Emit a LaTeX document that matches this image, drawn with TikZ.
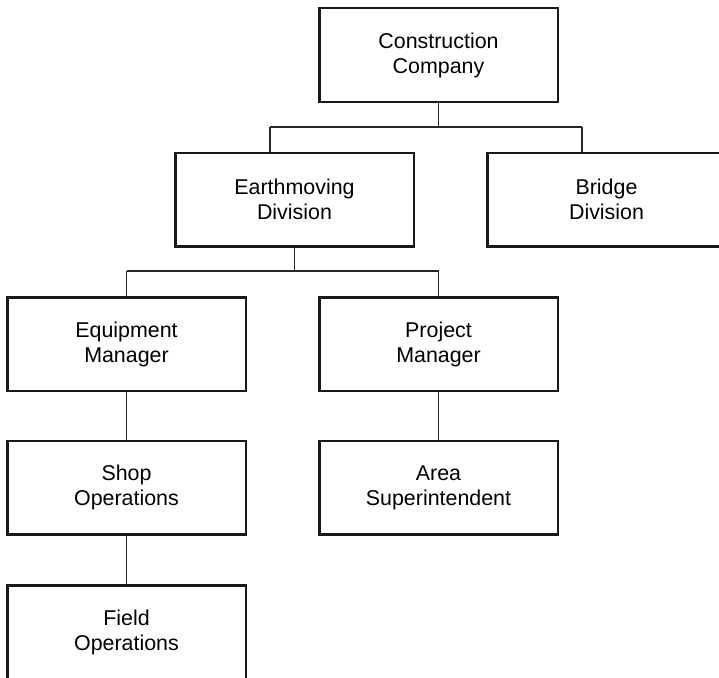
\documentclass[tikz,border=0pt]{standalone}
\usepackage{fontspec}
\setmainfont{Liberation Sans}
\begin{document}
\begin{tikzpicture}[x=1pt,y=-1pt,
  orgbox/.style={draw=black!90, line width=2.5pt, fill=white,
    minimum width=238.5pt, minimum height=93.5pt, inner sep=0pt,
    align=center, font=\fontsize{21.4}{25}\selectfont},
  bus/.style={draw=black!85, line width=1.3pt},
  link/.style={draw=black!85, line width=1.8pt}]
\useasboundingbox (0,0) rectangle (719,677);
\clip (0,0) rectangle (719,677);

% organisation boxes
\node[orgbox] (cc) at (438.5,55)    {Construction\\Company};
\node[orgbox] (ed) at (294.5,199.5) {Earthmoving\\Division};
\node[orgbox] (bd) at (606.5,199.5) {Bridge\\Division};
\node[orgbox] (em) at (126.5,344)   {Equipment\\Manager};
\node[orgbox] (pm) at (438.5,344)   {Project\\Manager};
\node[orgbox] (so) at (126.5,487.5) {Shop\\Operations};
\node[orgbox] (as) at (438.5,487.5) {Area\\Superintendent};
\node[orgbox] (fo) at (126.5,632)   {Field\\Operations};

% first-level bus
\coordinate (b1l) at (270,127);
\coordinate (b1r) at (582,127);
\draw[bus] (b1l) -- (b1r);
\draw[bus] (cc.south) -- (cc.south |- b1l);
\draw[bus] (b1l) -- (b1l |- ed.north);
\draw[bus] (b1r) -- (b1r |- bd.north);

% second-level bus
\coordinate (b2l) at (126.5,271);
\coordinate (b2r) at (438.5,271);
\draw[bus] (b2l) -- (b2r);
\draw[bus] (ed.south) -- (ed.south |- b2l);
\draw[bus] (b2l) -- (em.north);
\draw[bus] (b2r) -- (pm.north);

% chains below
\draw[link] (em.south) -- (so.north);
\draw[link] (so.south) -- (fo.north);
\draw[link] (pm.south) -- (as.north);
\end{tikzpicture}
\end{document}
